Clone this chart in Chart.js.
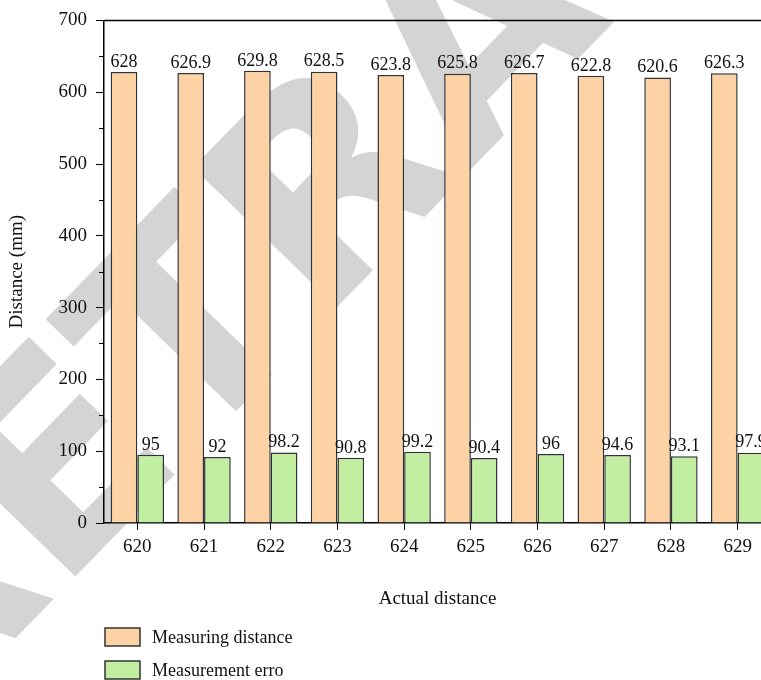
<!DOCTYPE html>
<html>
<head>
<meta charset="utf-8">
<script src="https://cdn.jsdelivr.net/npm/chart.js@4.4.0/dist/chart.umd.min.js"></script>
<style>
  html, body { margin: 0; padding: 0; background: #fff; overflow: hidden; }
  #wrap { width: 780px; height: 680px; }
</style>
</head>
<body>
<div id="wrap"><canvas id="chart" width="780" height="680"></canvas></div>
<script>
const categories = ['620', '621', '622', '623', '624', '625', '626', '627', '628', '629'];
const measuringDistance = [628, 626.9, 629.8, 628.5, 623.8, 625.8, 626.7, 622.8, 620.6, 626.3];
const measurementErro = [95, 92, 98.2, 90.8, 99.2, 90.4, 96, 94.6, 93.1, 97.9];
const yTicks = [0, 100, 200, 300, 400, 500, 600, 700];
const yMinorTicks = [50, 150, 250, 350, 450, 550, 650];

const serif = "'Liberation Serif', 'Times New Roman', serif";

// labels, minor ticks, frame line, legend and the watermark
const extras = {
  id: 'extras',
  beforeDraw(chart) {
    const ctx = chart.ctx;
    ctx.save();
    ctx.translate(492, 45);
    ctx.rotate(-0.8);
    ctx.fillStyle = '#d4d4d4';
    ctx.font = "bold 275px 'DejaVu Sans', sans-serif";
    ctx.textAlign = 'center';
    ctx.textBaseline = 'middle';
    ctx.fillText('RETRACTED', 0, 0);
    ctx.restore();
  },
  afterDraw(chart) {
    const ctx = chart.ctx;
    const area = chart.chartArea;
    const y = chart.scales.y;
    ctx.save();
    ctx.strokeStyle = '#000';
    ctx.lineWidth = 1.5;
    ctx.beginPath();
    ctx.moveTo(area.left, area.top);
    ctx.lineTo(chart.width, area.top);
    ctx.stroke();
    ctx.lineWidth = 1;
    yMinorTicks.forEach(v => {
      const py = Math.round(y.getPixelForValue(v)) + 0.5;
      ctx.beginPath();
      ctx.moveTo(area.left - 5, py);
      ctx.lineTo(area.left, py);
      ctx.stroke();
    });

    ctx.fillStyle = '#111';
    ctx.font = '18px ' + serif;
    ctx.textAlign = 'center';
    ctx.textBaseline = 'bottom';
    chart.data.datasets.forEach((ds, i) => {
      chart.getDatasetMeta(i).data.forEach((bar, j) => {
        ctx.fillText(String(ds.data[j]), bar.x, bar.y - 1);
      });
    });

    ctx.textAlign = 'left';
    ctx.textBaseline = 'middle';
    chart.data.datasets.forEach((ds, i) => {
      const top = 628 + i * 33;
      ctx.fillStyle = ds.backgroundColor;
      ctx.fillRect(105, top, 35, 18);
      ctx.strokeStyle = '#333';
      ctx.lineWidth = 1.5;
      ctx.strokeRect(105, top, 35, 18);
      ctx.fillStyle = '#111';
      ctx.fillText(ds.label, 152, top + 10);
    });
    ctx.restore();
  }
};

new Chart(document.getElementById('chart'), {
  type: 'bar',
  data: {
    labels: categories,
    datasets: [
      {
        label: 'Measuring distance',
        data: measuringDistance,
        backgroundColor: '#fdd3a5',
        borderColor: '#333',
        borderWidth: 1.5,
        categoryPercentage: 0.8,
        barPercentage: 1
      },
      {
        label: 'Measurement erro',
        data: measurementErro,
        backgroundColor: '#c1eea1',
        borderColor: '#333',
        borderWidth: 1.5,
        categoryPercentage: 0.8,
        barPercentage: 1
      }
    ]
  },
  options: {
    responsive: false,
    animation: false,
    layout: { padding: { top: 19, bottom: 57, right: 9, left: 0 } },
    plugins: { legend: { display: false }, tooltip: { enabled: false } },
    scales: {
      x: {
        grid: { display: true, drawOnChartArea: false, offset: false, tickLength: 7, color: '#000' },
        border: { display: true, color: '#000', width: 1.5 },
        ticks: { color: '#111', font: { family: serif, size: 19 }, padding: 6 },
        title: { display: true, text: 'Actual distance', color: '#111', font: { family: serif, size: 19 }, padding: { top: 0, bottom: 13 } },
        afterFit(scale) { scale.height = 100; }
      },
      y: {
        min: 0,
        max: 700,
        afterBuildTicks(scale) { scale.ticks = yTicks.map(v => ({ value: v })); },
        grid: { display: true, drawOnChartArea: false, tickLength: 8, color: '#000' },
        border: { display: true, color: '#000', width: 1.5 },
        ticks: { color: '#111', font: { family: serif, size: 19 }, padding: 9 },
        title: { display: true, text: 'Distance (mm)', color: '#111', font: { family: serif, size: 19 }, padding: { top: 6, bottom: 0 } },
        afterFit(scale) { scale.width = 104; }
      }
    }
  },
  plugins: [extras]
});
</script>
</body>
</html>
